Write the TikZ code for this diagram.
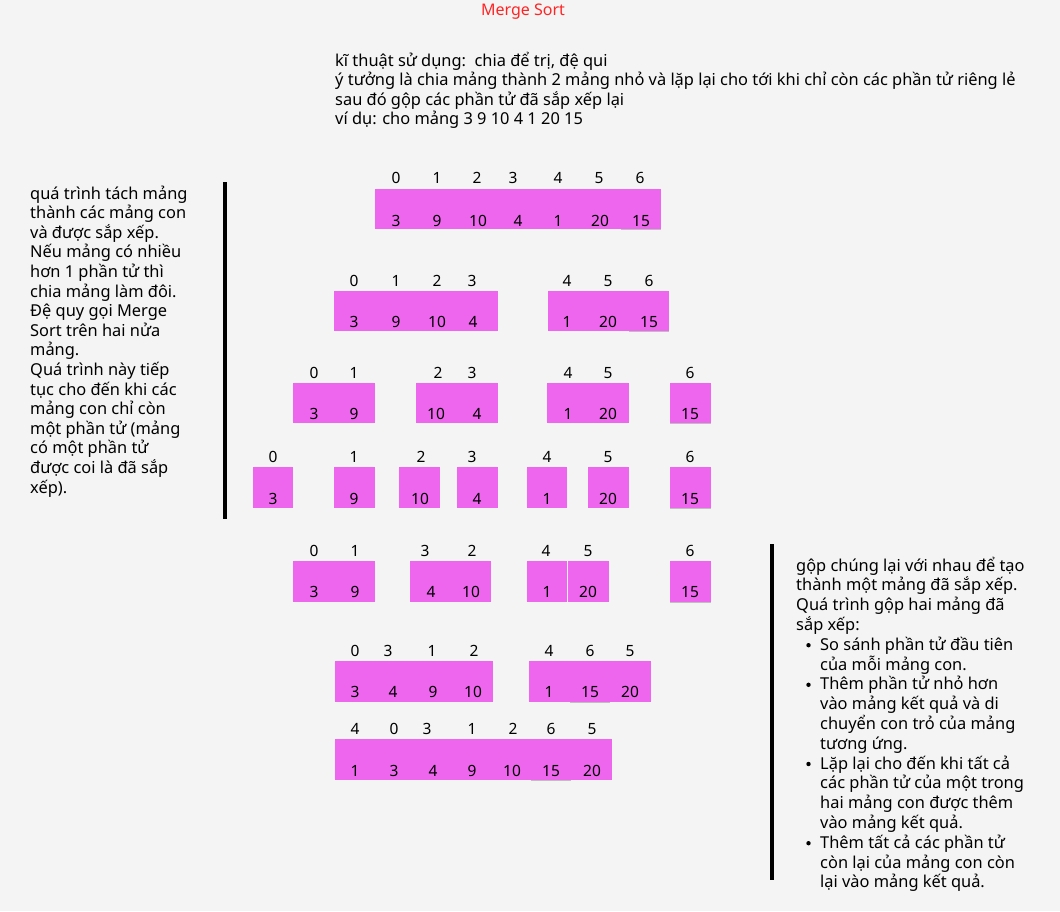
\documentclass[tikz,border=0pt]{standalone}
\usepackage{fontspec}
\setmainfont{Noto Sans}
\definecolor{bg}{HTML}{F4F4F4}
\definecolor{pinkc}{HTML}{EE66EE}
\definecolor{titlered}{HTML}{FF2424}
\tikzset{
  grpbox/.style={fill=pinkc},
  idx/.style={font=\fontsize{15.5}{18}\selectfont, inner sep=0pt},
  val/.style={font=\fontsize{15.5}{18}\selectfont, inner sep=0pt},
  para/.style={font=\fontsize{16.4}{19.6}\selectfont, inner sep=0pt, anchor=base west},
  bar/.style={fill=black},
  shade/.style={draw=black!25, line width=1pt}
}
\begin{document}
\begin{tikzpicture}[x=1pt,y=-1pt]
\fill[bg] (0,0) rectangle (1060,911);
\useasboundingbox (0,0) rectangle (1060,911);

% title
\node[font=\fontsize{16}{19}\selectfont, text=titlered, inner sep=0pt] (title) at (523,12) {Merge Sort};

% intro text
\foreach \t [count=\i from 0] in {{kĩ thuật sử dụng:\ \ chia để trị, đệ qui},
  {ý tưởng là chia mảng thành 2 mảng nhỏ và lặp lại cho tới khi chỉ còn các phần tử riêng lẻ},
  {sau đó gộp các phần tử đã sắp xếp lại},
  {ví dụ: cho mảng 3 9 10 4 1 20 15}}
  \node[para] (intro\i) at (335,66+19.5*\i) {\t};

% left text
\foreach \t [count=\i from 0] in {quá trình tách mảng, thành các mảng con, và được sắp xếp.,
  Nếu mảng có nhiều, hơn 1 phần tử thì, chia mảng làm đôi., Đệ quy gọi Merge,
  Sort trên hai nửa, mảng., Quá trình này tiếp, tục cho đến khi các,
  mảng con chỉ còn, một phần tử (mảng, có một phần tử, được coi là đã sắp, xếp).}
  \node[para] (left\i) at (30,199+19.6*\i) {\t};

% right text
\foreach \t [count=\i from 0] in {gộp chúng lại với nhau để tạo, thành một mảng đã sắp xếp.,
  Quá trình gộp hai mảng đã, sắp xếp:}
  \node[para] (right\i) at (796,571+19.8*\i) {\t};
\foreach \t [count=\i from 4] in {So sánh phần tử đầu tiên, của mỗi mảng con.,
  Thêm phần tử nhỏ hơn, vào mảng kết quả và di, chuyển con trỏ của mảng, tương ứng.,
  Lặp lại cho đến khi tất cả, các phần tử của một trong, hai mảng con được thêm,
  vào mảng kết quả., Thêm tất cả các phần tử, còn lại của mảng con còn, lại vào mảng kết quả.}
  \node[para] (rb\i) at (820,571+19.8*\i) {\t};
\foreach \i in {4,6,10,14}
  \fill (808.5,566+19.8*\i) circle (2.2);

% bars
\fill[bar] (223,182) rectangle (227,519);
\fill[bar] (770,544) rectangle (774,880);

% row 1
\fill[grpbox] (375,189) rectangle (661,229);
\draw[shade] (621,229.5) -- (661,229.5);
\foreach \x/\t in {396/0,437/1,477/2,513/3,558/4,599/5,640/6} \node[idx] at (\x,178) {\t};
\foreach \x/\t in {396/3,437/9,478/10,518/4,558/1,600/20,641/15} \node[val] at (\x,221) {\t};

% row 2
\fill[grpbox] (334,291) rectangle (498,331);
\fill[grpbox] (548,291) rectangle (669,331);
\draw[shade] (629,331.5) -- (669,331.5);
\foreach \x/\t in {354/0,396/1,437/2,472/3,567/4,608/5,649/6} \node[idx] at (\x,281) {\t};
\foreach \x/\t in {354/3,396/9,437/10,473/4,567/1,608/20,649/15} \node[val] at (\x,322) {\t};

% row 3
\foreach \a/\b in {293/375,416/498,547/629,670/711} \fill[grpbox] (\a,383) rectangle (\b,423);
\draw[shade] (670,423.5) -- (711,423.5);
\foreach \x/\t in {314/0,354/1,438/2,472/3,568/4,608/5,690/6} \node[idx] at (\x,373) {\t};
\foreach \x/\t in {314/3,354/9,436/10,477/4,568/1,608/20,690/15} \node[val] at (\x,414) {\t};

% row 4
\foreach \a/\b in {253/293,334/375,399/440,457/498,527/567,588/629,670/711} \fill[grpbox] (\a,467) rectangle (\b,508);
\draw[shade] (670,508.5) -- (711,508.5);
\foreach \x/\t in {273/0,354/1,421/2,472/3,547/4,608/5,690/6} \node[idx] at (\x,457) {\t};
\foreach \x/\t in {273/3,354/9,420/10,477/4,547/1,608/20,690/15} \node[val] at (\x,499) {\t};

% row 5
\foreach \a/\b in {293/375,410/491,527/567,568/609,670/711} \fill[grpbox] (\a,561) rectangle (\b,602);
\draw[shade] (670,602.5) -- (711,602.5);
\foreach \x/\t in {314/0,355/1,425/3,472/2,546/4,588/5,690/6} \node[idx] at (\x,551) {\t};
\foreach \x/\t in {314/3,355/9,431/4,471/10,547/1,588/20,690/15} \node[val] at (\x,592) {\t};

% row 6
\fill[grpbox] (335,661) rectangle (493,702);
\fill[grpbox] (529,661) rectangle (651,702);
\draw[shade] (570,702.5) -- (610,702.5);
\foreach \x/\t in {355/0,388/3,432/1,474/2,549/4,590/6,630/5} \node[idx] at (\x,651) {\t};
\foreach \x/\t in {355/3,393/4,433/9,473/10,549/1,590/15,630/20} \node[val] at (\x,692) {\t};

% row 7
\fill[grpbox] (335,739) rectangle (612,780);
\draw[shade] (531,780.5) -- (571,780.5);
\foreach \x/\t in {355/4,394/0,427/3,472/1,513/2,551/6,592/5} \node[idx] at (\x,729) {\t};
\foreach \x/\t in {355/1,394/3,433/4,472/9,512/10,551/15,592/20} \node[val] at (\x,771) {\t};
\end{tikzpicture}
\end{document}
